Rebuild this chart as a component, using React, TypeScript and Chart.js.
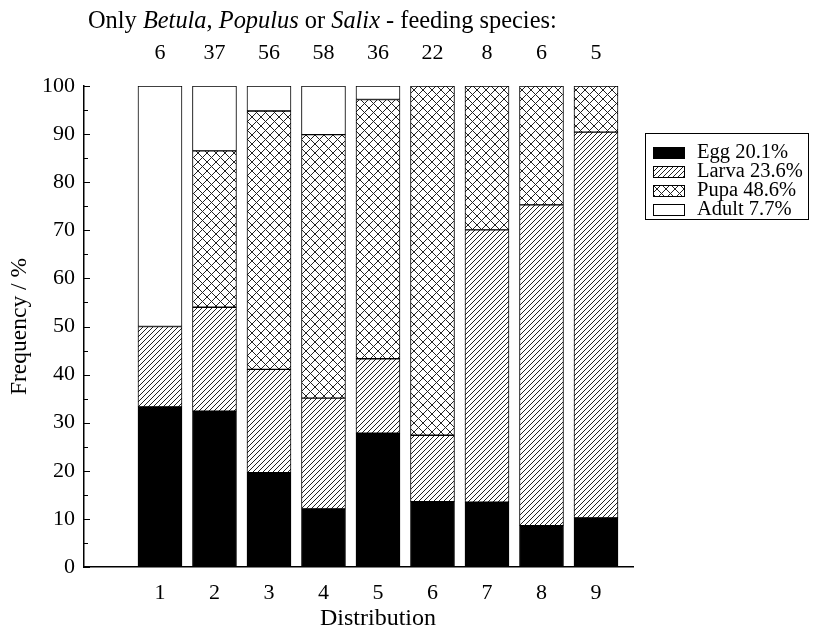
import React, { useEffect, useRef } from 'react';
import { Chart, registerables } from 'chart.js';

Chart.register(...registerables);

const distributions = [1, 2, 3, 4, 5, 6, 7, 8, 9];
const speciesCounts = [6, 37, 56, 58, 36, 22, 8, 6, 5];
const eggValues = [33.3, 32.4, 19.6, 12.1, 27.8, 13.6, 13.5, 8.6, 10.2];
const larvaValues = [16.7, 21.6, 21.5, 23.0, 15.5, 13.8, 56.6, 66.7, 80.2];
const pupaValues = [0, 32.5, 53.7, 54.8, 53.9, 72.6, 29.9, 24.7, 9.6];
const adultValues = [50.0, 13.5, 5.2, 10.1, 2.8, 0, 0, 0, 0];
const seriesLabels = ['Egg 20.1%', 'Larva 23.6%', 'Pupa 48.6%', 'Adult 7.7%'];
const yTickValues = [0, 10, 20, 30, 40, 50, 60, 70, 80, 90, 100];
const titleRuns: [string, boolean][] = [
  ['Only ', false],
  ['Betula', true],
  [', ', false],
  ['Populus', true],
  [' or ', false],
  ['Salix', true],
  [' - feeding species:', false],
];
const yAxisTitle = 'Frequency / %';
const xAxisTitle = 'Distribution';

const FONT = '"Liberation Serif", "DejaVu Serif", serif';

function makePattern(kind: 'diag' | 'cross'): CanvasPattern | string {
  const s = kind === 'diag' ? 5 : 9;
  const c = document.createElement('canvas');
  c.width = s;
  c.height = s;
  const ctx = c.getContext('2d');
  if (!ctx) return '#fff';
  ctx.fillStyle = '#fff';
  ctx.fillRect(0, 0, s, s);
  ctx.strokeStyle = '#222';
  ctx.lineWidth = 1;
  ctx.beginPath();
  ctx.moveTo(-1, s + 1);
  ctx.lineTo(s + 1, -1);
  ctx.moveTo(-1, 1);
  ctx.lineTo(1, -1);
  ctx.moveTo(s - 1, s + 1);
  ctx.lineTo(s + 1, s - 1);
  if (kind === 'cross') {
    ctx.moveTo(-1, -1);
    ctx.lineTo(s + 1, s + 1);
    ctx.moveTo(s - 1, -1);
    ctx.lineTo(s + 1, 1);
    ctx.moveTo(-1, s - 1);
    ctx.lineTo(1, s + 1);
  }
  ctx.stroke();
  const p = ctx.createPattern(c, 'repeat');
  return p || '#fff';
}

export default function App() {
  const ref = useRef<HTMLCanvasElement | null>(null);

  useEffect(() => {
    const canvas = ref.current;
    if (!canvas) return;
    const diag = makePattern('diag');
    const cross = makePattern('cross');
    const fills = ['#000', diag, cross, '#fff'];
    const seriesValues = [eggValues, larvaValues, pupaValues, adultValues];

    const decorPlugin = {
      id: 'decor',
      afterDraw(chart: any) {
        const ctx = chart.ctx as CanvasRenderingContext2D;
        const xs = chart.scales.x;
        const ys = chart.scales.y;
        ctx.save();
        // title
        ctx.fillStyle = '#000';
        ctx.textBaseline = 'alphabetic';
        ctx.textAlign = 'left';
        let x = 88;
        for (const [t, it] of titleRuns) {
          ctx.font = `${it ? 'italic ' : ''}24.4px ${FONT}`;
          ctx.fillText(t, x, 28);
          x += ctx.measureText(t).width;
        }
        // counts
        ctx.font = `22px ${FONT}`;
        ctx.textAlign = 'center';
        ctx.textBaseline = 'middle';
        distributions.forEach((d, i) => {
          ctx.fillText(String(speciesCounts[i]), xs.getPixelForValue(d), 53);
        });
        // x axis title (centered under distribution 5 as in the source)
        ctx.font = `24px ${FONT}`;
        ctx.fillText(xAxisTitle, 378, 619);
        // inner tick marks on y axis
        ctx.strokeStyle = '#000';
        ctx.lineWidth = 1;
        const left = chart.chartArea.left;
        for (let v = 0; v <= 100; v += 5) {
          const y = Math.round(ys.getPixelForValue(v)) + 0.5;
          ctx.beginPath();
          ctx.moveTo(left, y);
          ctx.lineTo(left + (v % 10 === 0 ? 6 : 4), y);
          ctx.stroke();
        }
        // legend
        const bx = 645, by = 133, bw = 163, bh = 86;
        ctx.lineWidth = 1;
        ctx.strokeRect(bx + 0.5, by + 0.5, bw, bh);
        ctx.font = `20.5px ${FONT}`;
        ctx.textAlign = 'left';
        ctx.textBaseline = 'middle';
        seriesLabels.forEach((lab, i) => {
          const cy = 152 + i * 19;
          ctx.fillStyle = fills[i] as any;
          ctx.fillRect(653, cy - 5, 31, 11);
          ctx.strokeStyle = '#000';
          ctx.strokeRect(653.5, cy - 5 + 0.5, 31, 11);
          ctx.fillStyle = '#000';
          ctx.fillText(lab, 697, cy + 1);
        });
        ctx.restore();
      },
    };

    const chart = new Chart(canvas, {
      type: 'bar',
      data: {
        datasets: seriesLabels.map((lab, si) => ({
          label: lab,
          data: distributions.map((d, i) => ({ x: d, y: seriesValues[si][i] === 0 ? null : seriesValues[si][i] })),
          backgroundColor: fills[si] as any,
          borderColor: '#000',
          borderWidth: 1,
          barThickness: 44,
          borderSkipped: false,
        })),
      },
      options: {
        animation: false,
        responsive: true,
        maintainAspectRatio: false,
        layout: { padding: { top: 86, right: 180, left: 0, bottom: 0 } },
        plugins: {
          legend: { display: false },
          tooltip: { enabled: false },
          title: { display: false },
        },
        scales: {
          x: {
            type: 'linear',
            stacked: true,
            offset: false,
            min: -0.394,
            max: 9.679,
            afterBuildTicks: (scale: any) => {
              scale.ticks = distributions.map((v) => ({ value: v }));
            },
            afterFit: (scale: any) => {
              scale.height = 64;
            },
            grid: { display: false, drawTicks: false },
            border: { display: true, color: '#000', width: 1.5 },
            ticks: {
              color: '#000',
              font: { family: FONT, size: 22 },
              padding: 13,
              autoSkip: false,
              maxRotation: 0,
              callback: (v: any) => String(v),
            },
            title: { display: false },
          },
          y: {
            stacked: true,
            min: 0,
            max: 100,
            afterBuildTicks: (scale: any) => {
              scale.ticks = yTickValues.map((v) => ({ value: v }));
            },
            afterFit: (scale: any) => {
              scale.width = 84;
            },
            grid: { display: false, drawTicks: false },
            border: { display: true, color: '#000', width: 1.5 },
            ticks: {
              color: '#000',
              font: { family: FONT, size: 22 },
              padding: 9,
            },
            title: {
              display: true,
              text: yAxisTitle,
              color: '#000',
              font: { family: FONT, size: 23.5 },
              padding: { top: 6, bottom: 0 },
            },
          },
        },
      },
      plugins: [decorPlugin],
    } as any);

    return () => chart.destroy();
  }, []);

  return (
    <div style={{ position: 'absolute', left: 0, top: 0, width: 813, height: 631, background: '#fff' }}>
      <canvas ref={ref} />
    </div>
  );
}
